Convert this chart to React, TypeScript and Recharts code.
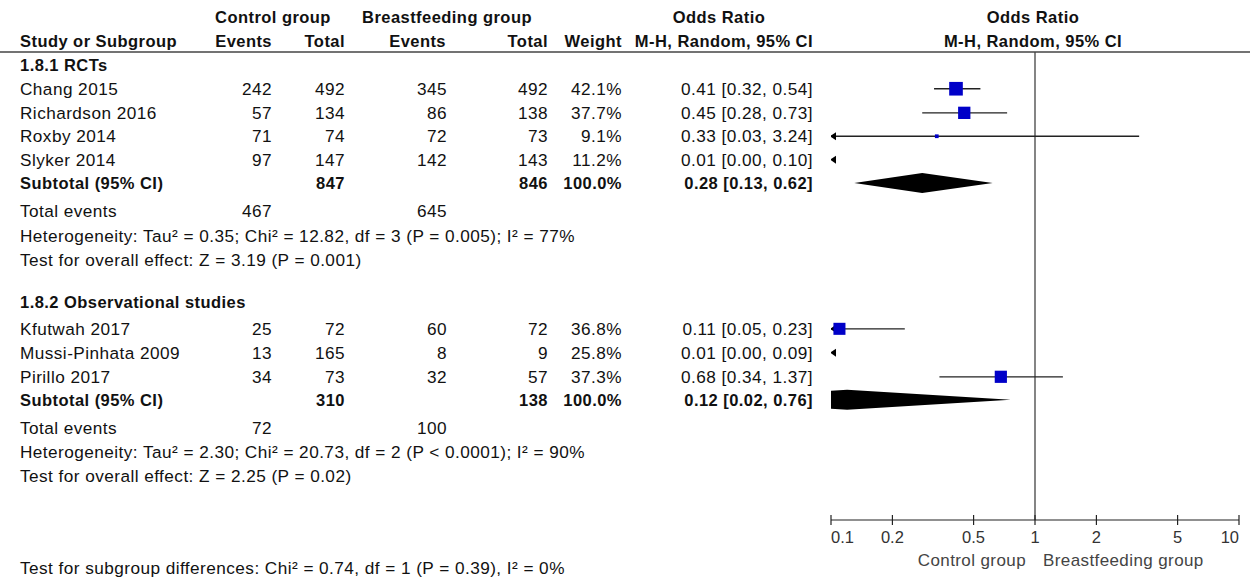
import React from 'react';
import { ComposedChart, Scatter, Area, XAxis, YAxis, ReferenceLine } from 'recharts';

// ---------- data ----------
const studies = ['Chang 2015', 'Richardson 2016', 'Roxby 2014', 'Slyker 2014', 'Kfutwah 2017', 'Mussi-Pinhata 2009', 'Pirillo 2017'];
const studyGroup = [0, 0, 0, 0, 1, 1, 1];
const ctrlEvents = [242, 57, 71, 97, 25, 13, 34];
const ctrlTotal = [492, 134, 74, 147, 72, 165, 73];
const bfEvents = [345, 86, 72, 142, 60, 8, 32];
const bfTotal = [492, 138, 73, 143, 72, 9, 57];
const weights = [42.1, 37.7, 9.1, 11.2, 36.8, 25.8, 37.3];
const orEst = [0.41, 0.45, 0.33, 0.01, 0.11, 0.01, 0.68];
const orLow = [0.32, 0.28, 0.03, 0.0, 0.05, 0.0, 0.34];
const orHigh = [0.54, 0.73, 3.24, 0.1, 0.23, 0.09, 1.37];

const groupNames = ['1.8.1 RCTs', '1.8.2 Observational studies'];
const subCtrlTotal = [847, 310];
const subBfTotal = [846, 138];
const subCtrlEvents = [467, 72];
const subBfEvents = [645, 100];
const subEst = [0.28, 0.12];
const subLow = [0.13, 0.02];
const subHigh = [0.62, 0.76];
const heterogeneity = [
  'Heterogeneity: Tau\u00B2 = 0.35; Chi\u00B2 = 12.82, df = 3 (P = 0.005); I\u00B2 = 77%',
  'Heterogeneity: Tau\u00B2 = 2.30; Chi\u00B2 = 20.73, df = 2 (P < 0.0001); I\u00B2 = 90%',
];
const overallEffect = ['Test for overall effect: Z = 3.19 (P = 0.001)', 'Test for overall effect: Z = 2.25 (P = 0.02)'];
const subgroupDiff = 'Test for subgroup differences: Chi\u00B2 = 0.74, df = 1 (P = 0.39), I\u00B2 = 0%';
const xTicks = [0.1, 0.2, 0.5, 1, 2, 5, 10];
const favoursLeft = 'Control group';
const favoursRight = 'Breastfeeding group';

// ---------- layout (row slots) ----------
const W = 1250;
const H = 581;
const X_MIN = 0.1;
const X_MAX = 10;
const ROWS = 20;
const PLOT_TOP = 52;
const PLOT_BOTTOM = 520;
const rowH = (PLOT_BOTTOM - PLOT_TOP) / ROWS;
const rowPx = (r: number) => PLOT_TOP + r * rowH;

const studyRow = [1.57, 2.6, 3.6, 4.6, 11.83, 12.85, 13.88];
const subtotalRow = [5.6, 14.86];
const groupHeaderRow = [0.56, 10.68];
const totalEventsRow = [6.8, 16.07];
const hetRow = [7.86, 17.09];
const overallRow = [8.9, 18.12];
const headRow1 = -1.5;
const headRow2 = -0.47;
const diffRow = 22.05;

const FONT = '"Liberation Sans", Arial, sans-serif';
const FS = 17.2;
const FS_B = 16.5;
const LS = 0.45;
const TXT = '#111';
const BOX = '#0000C8';
const LINE = '#222';

const fmt = (v: number) => v.toFixed(2);
const orText = (e: number, l: number, h: number) => `${fmt(e)} [${fmt(l)}, ${fmt(h)}]`;

// ---------- mark data ----------
const boxData = studies
  .map((s, i) => ({ x: orEst[i], y: studyRow[i], w: weights[i] }))
  .filter((d) => d.x >= X_MIN && d.x <= X_MAX);
const arrowData = studies
  .map((s, i) => ({ x: X_MIN, y: studyRow[i], lo: orLow[i] }))
  .filter((d) => d.lo < X_MIN);
const DIAMOND_HALF = 0.43;
const diamondData = subEst.map((e, g) => [
  { x: subLow[g], band: [subtotalRow[g], subtotalRow[g]] },
  { x: e, band: [subtotalRow[g] - DIAMOND_HALF, subtotalRow[g] + DIAMOND_HALF] },
  { x: subHigh[g], band: [subtotalRow[g], subtotalRow[g]] },
]);

const BoxShape = (props: any) => {
  const { cx, cy, payload } = props;
  const s = 0.3 * payload.w + 1;
  return <rect x={cx - s / 2} y={cy - s / 2} width={s} height={s} fill={BOX} />;
};
const ArrowShape = (props: any) => {
  const { cx, cy } = props;
  return <polygon points={`${cx - 1},${cy} ${cx + 5},${cy - 4} ${cx + 5},${cy + 4}`} fill="#000" />;
};
const AxisTick = (props: any) => {
  const { x, y, payload } = props;
  const v = payload.value;
  const anchor = v === X_MIN ? 'start' : v === X_MAX ? 'end' : 'middle';
  return (
    <g>
      <line x1={x} x2={x} y1={y - 5} y2={y + 5} stroke={LINE} strokeWidth={1.2} />
      <text x={x} y={y + 23} textAnchor={anchor} fontFamily={FONT} fontSize={16.5} fill="#333">
        {String(v)}
      </text>
    </g>
  );
};

const T = ({ x, r, a = 'start', b = false, c = TXT, children }: any) => (
  <text
    x={x}
    y={rowPx(r) + 6}
    textAnchor={a}
    fontFamily={FONT}
    fontSize={b ? FS_B : FS}
    letterSpacing={LS}
    fontWeight={b ? 'bold' : 'normal'}
    fill={c}
  >
    {children}
  </text>
);

export default function App() {
  const table: any[] = [];
  table.push(
    <T key="h1a" x={273} r={headRow1} a="middle" b>Control group</T>,
    <T key="h1b" x={447} r={headRow1} a="middle" b>Breastfeeding group</T>,
    <T key="h1c" x={719} r={headRow1} a="middle" b>Odds Ratio</T>,
    <T key="h1d" x={1033} r={headRow1} a="middle" b>Odds Ratio</T>,
    <T key="h2a" x={20} r={headRow2} b>Study or Subgroup</T>,
    <T key="h2b" x={272} r={headRow2} a="end" b>Events</T>,
    <T key="h2c" x={345} r={headRow2} a="end" b>Total</T>,
    <T key="h2d" x={446} r={headRow2} a="end" b>Events</T>,
    <T key="h2e" x={548} r={headRow2} a="end" b>Total</T>,
    <T key="h2f" x={622} r={headRow2} a="end" b>Weight</T>,
    <T key="h2g" x={813} r={headRow2} a="end" b>M-H, Random, 95% CI</T>,
    <T key="h2h" x={1033} r={headRow2} a="middle" b>M-H, Random, 95% CI</T>
  );
  groupNames.forEach((gName, g) => {
    table.push(<T key={`g${g}`} x={20} r={groupHeaderRow[g]} b>{gName}</T>);
    studies.forEach((s, i) => {
      if (studyGroup[i] !== g) return;
      const r = studyRow[i];
      table.push(
        <T key={`s${i}a`} x={20} r={r}>{s}</T>,
        <T key={`s${i}b`} x={272} r={r} a="end">{ctrlEvents[i]}</T>,
        <T key={`s${i}c`} x={345} r={r} a="end">{ctrlTotal[i]}</T>,
        <T key={`s${i}d`} x={447} r={r} a="end">{bfEvents[i]}</T>,
        <T key={`s${i}e`} x={548} r={r} a="end">{bfTotal[i]}</T>,
        <T key={`s${i}f`} x={622} r={r} a="end">{`${weights[i].toFixed(1)}%`}</T>,
        <T key={`s${i}g`} x={813} r={r} a="end">{orText(orEst[i], orLow[i], orHigh[i])}</T>
      );
    });
    const sr = subtotalRow[g];
    table.push(
      <T key={`st${g}a`} x={20} r={sr} b>Subtotal (95% CI)</T>,
      <T key={`st${g}b`} x={345} r={sr} a="end" b>{subCtrlTotal[g]}</T>,
      <T key={`st${g}c`} x={548} r={sr} a="end" b>{subBfTotal[g]}</T>,
      <T key={`st${g}d`} x={622} r={sr} a="end" b>100.0%</T>,
      <T key={`st${g}e`} x={813} r={sr} a="end" b>{orText(subEst[g], subLow[g], subHigh[g])}</T>,
      <T key={`te${g}a`} x={20} r={totalEventsRow[g]}>Total events</T>,
      <T key={`te${g}b`} x={272} r={totalEventsRow[g]} a="end">{subCtrlEvents[g]}</T>,
      <T key={`te${g}c`} x={447} r={totalEventsRow[g]} a="end">{subBfEvents[g]}</T>,
      <T key={`he${g}`} x={20} r={hetRow[g]}>{heterogeneity[g]}</T>,
      <T key={`oe${g}`} x={20} r={overallRow[g]}>{overallEffect[g]}</T>
    );
  });
  table.push(<T key="diff" x={20} r={diffRow}>{subgroupDiff}</T>);

  return (
    <div style={{ position: 'absolute', left: 0, top: 0, width: W, height: H, background: '#fff' }}>
      <div style={{ position: 'absolute', left: 0, top: 0 }}>
        <ComposedChart width={W} height={H} margin={{ top: PLOT_TOP, right: 11, bottom: 31, left: 831 }}>
          <XAxis
            type="number"
            dataKey="x"
            scale="log"
            domain={[X_MIN, X_MAX]}
            allowDataOverflow
            ticks={xTicks}
            interval={0}
            height={30}
            tickSize={0}
            tickMargin={0}
            tickLine={false}
            axisLine={{ stroke: LINE, strokeWidth: 1.2 }}
            tick={<AxisTick />}
          />
          <YAxis type="number" dataKey="y" domain={[0, ROWS]} reversed allowDataOverflow hide />
          <ReferenceLine x={1} stroke="#333" strokeWidth={1.2} />
          {studies.map((s, i) => {
            const lo = Math.max(orLow[i], X_MIN);
            const hi = Math.min(orHigh[i], X_MAX);
            if (hi <= lo) return null;
            return (
              <ReferenceLine
                key={`ci${i}`}
                segment={[
                  { x: lo, y: studyRow[i] },
                  { x: hi, y: studyRow[i] },
                ]}
                stroke={LINE}
                strokeWidth={1.3}
              />
            );
          })}
          {diamondData.map((d, g) => (
            <Area
              key={`dia${g}`}
              data={d}
              dataKey="band"
              type="linear"
              stroke="none"
              fill="#000"
              fillOpacity={1}
              dot={false}
              activeDot={false}
              isAnimationActive={false}
            />
          ))}
          <Scatter data={arrowData} shape={<ArrowShape />} isAnimationActive={false} />
          <Scatter data={boxData} shape={<BoxShape />} isAnimationActive={false} />
        </ComposedChart>
      </div>
      <svg width={W} height={H} style={{ position: 'absolute', left: 0, top: 0, pointerEvents: 'none' }}>
        <line x1={0} x2={W} y1={PLOT_TOP} y2={PLOT_TOP} stroke="#444" strokeWidth={1.6} />
        {table}
        <text x={1026} y={566} textAnchor="end" fontFamily={FONT} fontSize={17} letterSpacing={0.4} fill="#444">{favoursLeft}</text>
        <text x={1043} y={566} textAnchor="start" fontFamily={FONT} fontSize={17} letterSpacing={0.4} fill="#444">{favoursRight}</text>
      </svg>
    </div>
  );
}
